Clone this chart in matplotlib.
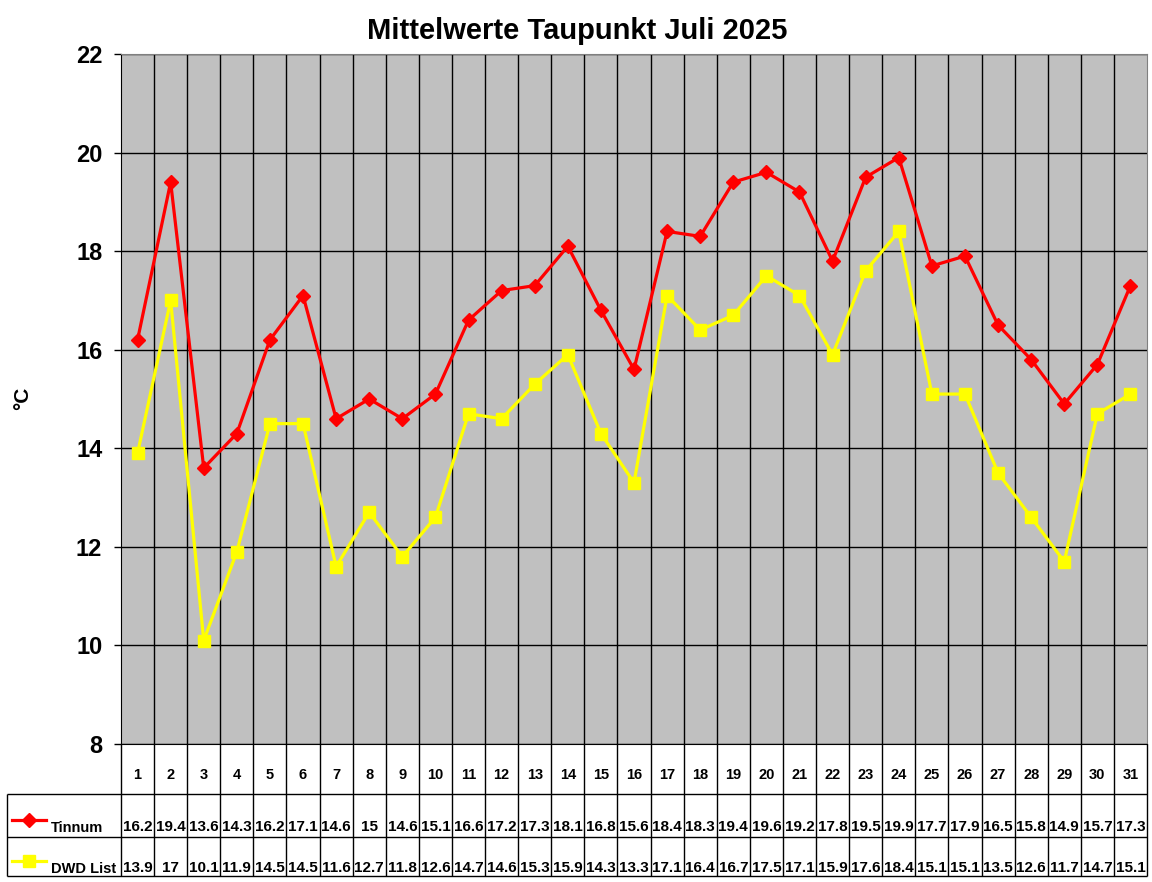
import matplotlib
matplotlib.use("Agg")
import matplotlib.pyplot as plt
from matplotlib.ticker import MultipleLocator

plt.rcParams['font.family'] = ['Liberation Sans', 'DejaVu Sans']
plt.rcParams['font.weight'] = 'bold'

title = "Mittelwerte Taupunkt Juli 2025"
ylabel = "°C"
days = list(range(1, 32))
series_names = ["Tinnum", "DWD List"]
tinnum = [16.2, 19.4, 13.6, 14.3, 16.2, 17.1, 14.6, 15, 14.6, 15.1, 16.6, 17.2, 17.3, 18.1, 16.8, 15.6,
          18.4, 18.3, 19.4, 19.6, 19.2, 17.8, 19.5, 19.9, 17.7, 17.9, 16.5, 15.8, 14.9, 15.7, 17.3]
dwd = [13.9, 17, 10.1, 11.9, 14.5, 14.5, 11.6, 12.7, 11.8, 12.6, 14.7, 14.6, 15.3, 15.9, 14.3, 13.3,
       17.1, 16.4, 16.7, 17.5, 17.1, 15.9, 17.6, 18.4, 15.1, 15.1, 13.5, 12.6, 11.7, 14.7, 15.1]
colors = ["#FF0000", "#FFFF00"]
markers = ["D", "s"]
msizes = [7.5, 8.5]
series = [tinnum, dwd]

W, H = 1152, 882
fig = plt.figure(figsize=(W / 100, H / 100), dpi=100)
fig.patch.set_facecolor("white")

# main plot area (pixel geometry)
L, R, T, B = 121, 1147, 54, 744
ax = fig.add_axes([L / W, (H - B) / H, (R - L) / W, (B - T) / H])
ax.set_facecolor("#C0C0C0")
ax.set_xlim(0.5, 31.5)
ax.set_ylim(8, 22)
ax.yaxis.set_major_locator(MultipleLocator(2))
ax.set_xticks([d + 0.5 for d in days[:-1]], minor=True)
ax.set_xticks([])
ax.grid(axis='y', which='major', color='black', lw=1)
ax.grid(axis='x', which='minor', color='black', lw=1)
ax.tick_params(axis='x', which='both', length=0, labelbottom=False)
ax.tick_params(axis='y', length=5, width=1, color='black', pad=8.5, labelsize=17)
for lab in ax.get_yticklabels():
    lab.set_fontweight('bold')
for s in ['top', 'right']:
    ax.spines[s].set_color('#808080')
for s in ['left', 'bottom']:
    ax.spines[s].set_color('black')
ax.set_axisbelow(True)

for vals, c, m, ms in zip(series, colors, markers, msizes):
    ax.plot(days, vals, color=c, lw=2.3, marker=m, ms=ms, mec=c, mfc=c, zorder=3)

fig.text(577 / W, 1 - 31 / H, title, ha='center', va='center', fontsize=21, fontweight='bold')
fig.text(23 / W, 1 - 398 / H, ylabel, ha='center', va='center', rotation=90, fontsize=15, fontweight='bold')

# data table
TL, TB = 7, 876
tab = fig.add_axes([TL / W, (H - TB) / H, (R - TL) / W, (TB - B) / H])
col_w = (R - L) / 31.0
x_left = 0.5 - (L - TL) / col_w
tab.set_xlim(x_left, 31.5)
tab.set_ylim(TB, B)
tab.axis('off')

r1, r2 = 794, 837
lc = dict(color='black', lw=1, solid_capstyle='butt', clip_on=False)
for d in [0.5] + [d + 0.5 for d in days]:
    tab.plot([d, d], [B, TB], **lc)
tab.plot([x_left, x_left], [r1, TB], **lc)
for yy in [r1, r2, TB]:
    tab.plot([x_left, 31.5], [yy, yy], **lc)

for d in days:
    tab.text(d, 775, str(d), ha='center', va='center', fontsize=10.5, fontweight='bold')
row_y = [827, 868]
for vals, yy in zip(series, row_y):
    for d, v in zip(days, vals):
        tab.text(d, yy, f"{v:g}", ha='center', va='center', fontsize=11, fontweight='bold')

# legend keys in table
leg_line_y = [820, 861]
for name, c, m, ms, ly, ty in zip(series_names, colors, markers, msizes, leg_line_y, row_y):
    x0 = x_left + (12 - TL) / col_w
    x1 = x_left + (46 - TL) / col_w
    tab.plot([x0, x1], [ly, ly], color=c, lw=2.3, clip_on=False)
    tab.plot([(x0 + x1) / 2], [ly], marker=m, ms=ms, color=c, clip_on=False)
    tab.text(x_left + (51 - TL) / col_w, ty + 1, name, ha='left', va='center', fontsize=10.5, fontweight='bold')

fig.savefig("out.png", dpi=100)
